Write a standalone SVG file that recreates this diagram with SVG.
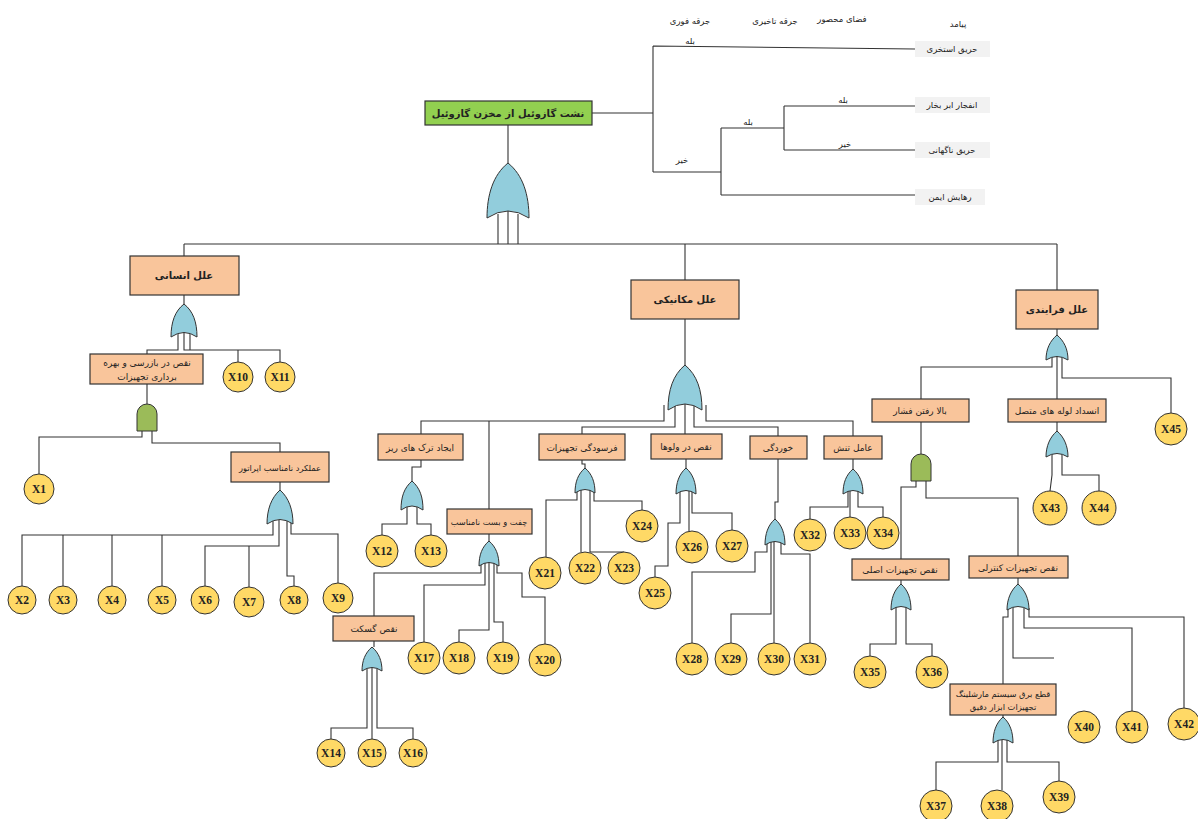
<svg xmlns="http://www.w3.org/2000/svg" width="1198" height="819" viewBox="0 0 1198 819">
<style>
.bg{fill:#fff}
.box{fill:#f9c59b;stroke:#333;stroke-width:1.2}
.top{fill:#92d050;stroke:#333;stroke-width:1.2}
.out{fill:#f2f2f2}
.or{fill:#92cddc;stroke:#333;stroke-width:1}
.and{fill:#9bbb59;stroke:#333;stroke-width:1}
.ev{fill:#ffd966;stroke:#333;stroke-width:1}
.c line,.c path{fill:none;stroke:#333;stroke-width:1.1}
.t{font-family:"DejaVu Sans",sans-serif;font-size:9px;fill:#222;text-anchor:middle}
.n{font-size:8.3px}
.tb{font-family:"DejaVu Sans",sans-serif;font-size:10px;font-weight:bold;fill:#222;text-anchor:middle}
.s{font-family:"DejaVu Sans",sans-serif;font-size:8.5px;fill:#222;text-anchor:middle}
.x{font-family:"Liberation Serif",serif;font-size:11.5px;font-weight:bold;fill:#222;text-anchor:middle}
</style>
<rect class="bg" width="1198" height="819"/>

<g id="connectors" class="c">
<path d="M592,113 H653 M653,46 V172 M653,46 L915,49 M653,172 H721 M721,128 V195 M721,128 H784 M784,106 V150 M784,106 H915 M784,150 H915 M721,195 H915"/>
<path d="M508,125 V163 M498,214 V244 M508,211 V244 M518,214 V244 M184,244 H1057 M184,244 V256 M685,244 V280 M1057,244 V290"/>
<path d="M184,295 V304 M178,334 V350 H147 V354 M184,332 V350 H238 V362 M190,334 V350 H280 V362"/>
<path d="M147,384 V404 M142,431 V437 H39 V474 M152,431 V443 H280 V452"/>
<path d="M280,482 V490 M273,521 V535 H22 V586 M63,535 V586 M112,535 V586 M162,535 V586 M279,520 V546 H205 V586 M249,546 V587 M287,521 V576 H294 V586 M291,522 V534 H338 V584"/>
<path d="M685,319 V365 M664,405 V421 H421 V434 M489,421 V509 M675,403 V427 H582 V434 M685,400 V434 M694,403 V427 H778 V436 M706,405 V421 H853 V436"/>
<path d="M421,460 V467 H412 V481 M407,507 V524 H382 V535 M417,507 V524 H431 V535"/>
<path d="M489,534 V541 M481,563 V573 H374 V616 M485,562 V585 H424 V642 M489,561 V630 H459 V642 M494,562 V622 H503 V642 M497,563 V573 H522 V597 H545 V644"/>
<path d="M374,641 V647 M367,669 V728 H331 V739 M372,668 V739 M377,669 V728 H413 V739"/>
<path d="M582,460 V464 H585 V468 M577,490 V500 H546 V557 M581,489 V552 M590,489 V552 H624 M594,490 V501 H642 V510"/>
<path d="M686,459 V468 M680,491 V523 H668 V566 H655 V577 M689,491 V531 M692,491 V513 H732 V530"/>
<path d="M778,459 V502 H775 V519 M767,542 V552 H755 V572 H692 V643 M771,541 V614 H731 V643 M774,541 V643 M781,541 V554 H810 V643"/>
<path d="M853,459 V469 M848,491 V507 H810 V519 M850,491 V517 M858,491 V507 H883 V517"/>
<path d="M1057,329 V335 M1052,357 V367 H921 V399 M1057,356 V399 M1062,357 V378 H1171 V413"/>
<path d="M1057,422 V431 M1052,454 V475 L1050,491 M1062,454 V475 H1099 V491"/>
<path d="M921,422 V454 M916,481 V487 H901 V559 M926,481 V498 H1018 V556"/>
<path d="M901,580 V584 M896,607 V644 H870 V656 M906,607 V644 H932 V656"/>
<path d="M1018,578 V584 M1008,608 V617 H1003 V684 M1013,607 V658 H1054 M1024,607 V628 H1132 V711 M1029,608 V617 H1184 V708"/>
<path d="M1003,715 V717 M998,740 V762 H936 V790 M1002,740 V790 M1007,740 V762 H1059 V781"/>
</g>

<g id="event-tree">
<text class="s" x="690" y="24">جرقه فوری</text>
<text class="s" x="775" y="24">جرقه تاخیری</text>
<text class="s" x="842" y="22">فضای محصور</text>
<text class="s" x="958" y="27">پیامد</text>
<text class="s" x="690" y="44">بله</text>
<text class="s" x="682" y="163">خیر</text>
<text class="s" x="748" y="125">بله</text>
<text class="s" x="843" y="103">بله</text>
<text class="s" x="845" y="147">خیر</text>
<g id="o1"><rect class="out" x="915" y="41" width="75" height="16"/><text class="s" x="952" y="52">حریق استخری</text></g>
<g id="o2"><rect class="out" x="915" y="97" width="75" height="16"/><text class="s" x="952" y="108">انفجار ابر بخار</text></g>
<g id="o3"><rect class="out" x="915" y="142" width="75" height="16"/><text class="s" x="952" y="153">حریق ناگهانی</text></g>
<g id="o4"><rect class="out" x="915" y="189" width="70" height="16"/><text class="s" x="950" y="200">رهایش ایمن</text></g>
</g>

<g id="top-event"><rect class="top" x="425" y="101" width="167" height="24"/><text class="tb" x="508" y="117">نشت گازوئیل از مخزن گازوئیل</text></g>

<g id="gates">
<path class="or" d="M508,163 C523,175 529,195 529,218 Q508,204 487,218 C487,195 493,175 508,163 Z"/>
<path class="or" d="M184,304 C193,311 197,322 197,337 Q184,328 171,337 C171,322 175,311 184,304 Z"/>
<path class="and" d="M137,431 V414 A10,10 0 0 1 157,414 V431 Z"/>
<path class="or" d="M280,490 C289,498 293,510 293,524 Q280,515 267,524 C267,510 271,498 280,490 Z"/>
<path class="or" d="M685,365 C697,375 702,390 702,410 Q685,398 668,410 C668,390 673,375 685,365 Z"/>
<path class="or" d="M412,481 C420,488 423,497 423,510 Q412,502 401,510 C401,497 404,488 412,481 Z"/>
<path class="or" d="M489,541 C496,547 499,555 499,566 Q489,559 479,566 C479,555 482,547 489,541 Z"/>
<path class="or" d="M372,647 C379,653 382,661 382,671 Q372,664 362,671 C362,661 365,653 372,647 Z"/>
<path class="or" d="M585,468 C592,474 595,482 595,493 Q585,486 575,493 C575,482 578,474 585,468 Z"/>
<path class="or" d="M686,468 C693,474 696,483 696,494 Q686,487 676,494 C676,483 679,474 686,468 Z"/>
<path class="or" d="M775,519 C782,525 785,534 785,545 Q775,538 765,545 C765,534 768,525 775,519 Z"/>
<path class="or" d="M853,469 C860,475 863,483 863,494 Q853,487 843,494 C843,483 846,475 853,469 Z"/>
<path class="or" d="M1057,335 C1064,341 1068,349 1068,360 Q1057,353 1046,360 C1046,349 1050,341 1057,335 Z"/>
<path class="or" d="M1057,431 C1064,437 1068,446 1068,457 Q1057,450 1046,457 C1046,446 1050,437 1057,431 Z"/>
<path class="and" d="M911,481 V464 A10,10 0 0 1 931,464 V481 Z"/>
<path class="or" d="M901,584 C908,590 911,599 911,610 Q901,603 891,610 C891,599 894,590 901,584 Z"/>
<path class="or" d="M1018,584 C1025,590 1029,599 1029,610 Q1018,603 1007,610 C1007,599 1011,590 1018,584 Z"/>
<path class="or" d="M1003,717 C1010,723 1013,732 1013,743 Q1003,736 993,743 C993,732 996,723 1003,717 Z"/>
</g>

<g id="n-human"><rect class="box" x="130" y="256" width="109" height="39"/><text class="tb" x="184" y="279">علل انسانی</text></g>
<g id="n-inspect"><rect class="box" x="90" y="354" width="113" height="30"/><text class="t" x="147" y="366">نقص در بازرسی و بهره</text><text class="t" x="147" y="380">برداری تجهیزات</text></g>
<g id="n-operator"><rect class="box" x="231" y="452" width="98" height="30"/><text class="t n" x="280" y="471">عملکرد نامناسب اپراتور</text></g>
<g id="n-mech"><rect class="box" x="631" y="280" width="108" height="39"/><text class="tb" x="685" y="303">علل مکانیکی</text></g>
<g id="n-crack"><rect class="box" x="378" y="434" width="85" height="26"/><text class="t" x="420" y="451">ایجاد ترک های ریز</text></g>
<g id="n-wear"><rect class="box" x="539" y="434" width="86" height="26"/><text class="t" x="582" y="451">فرسودگی تجهیزات</text></g>
<g id="n-valve"><rect class="box" x="651" y="434" width="71" height="25"/><text class="t" x="686" y="450">نقص در ولوها</text></g>
<g id="n-corr"><rect class="box" x="750" y="436" width="57" height="23"/><text class="t" x="778" y="451">خوردگی</text></g>
<g id="n-stress"><rect class="box" x="824" y="436" width="58" height="23"/><text class="t" x="853" y="451">عامل تنش</text></g>
<g id="n-bolt"><rect class="box" x="447" y="509" width="85" height="25"/><text class="t n" x="489" y="525">چفت و بست نامناسب</text></g>
<g id="n-gasket"><rect class="box" x="333" y="616" width="81" height="25"/><text class="t" x="374" y="632">نقص گسکت</text></g>
<g id="n-proc"><rect class="box" x="1016" y="290" width="82" height="39"/><text class="tb" x="1057" y="313">علل فرایندی</text></g>
<g id="n-press"><rect class="box" x="872" y="399" width="97" height="23"/><text class="t" x="920" y="414">بالا رفتن فشار</text></g>
<g id="n-block"><rect class="box" x="1008" y="399" width="98" height="23"/><text class="t" x="1057" y="414">انسداد لوله های متصل</text></g>
<g id="n-main"><rect class="box" x="852" y="559" width="97" height="21"/><text class="t" x="900" y="573">نقص تجهیزات اصلی</text></g>
<g id="n-ctrl"><rect class="box" x="969" y="556" width="99" height="22"/><text class="t" x="1018" y="571">نقص تجهیزات کنترلی</text></g>
<g id="n-power"><rect class="box" x="950" y="684" width="106" height="31"/><text class="t n" x="1003" y="697">قطع برق سیستم مارشلینگ</text><text class="t n" x="1003" y="710">تجهیزات ابزار دقیق</text></g>

<g id="basic-events">
<g id="X1"><circle class="ev" cx="39" cy="489" r="15"/><text class="x" x="39" y="493">X1</text></g>
<g id="X2"><circle class="ev" cx="22" cy="600" r="14"/><text class="x" x="22" y="604">X2</text></g>
<g id="X3"><circle class="ev" cx="63" cy="600" r="14"/><text class="x" x="63" y="604">X3</text></g>
<g id="X4"><circle class="ev" cx="112" cy="600" r="14"/><text class="x" x="112" y="604">X4</text></g>
<g id="X5"><circle class="ev" cx="162" cy="600" r="14"/><text class="x" x="162" y="604">X5</text></g>
<g id="X6"><circle class="ev" cx="205" cy="600" r="14"/><text class="x" x="205" y="604">X6</text></g>
<g id="X7"><circle class="ev" cx="249" cy="602" r="15"/><text class="x" x="249" y="606">X7</text></g>
<g id="X8"><circle class="ev" cx="294" cy="600" r="14"/><text class="x" x="294" y="604">X8</text></g>
<g id="X9"><circle class="ev" cx="338" cy="598" r="15"/><text class="x" x="338" y="602">X9</text></g>
<g id="X10"><circle class="ev" cx="238" cy="377" r="15"/><text class="x" x="238" y="381">X10</text></g>
<g id="X11"><circle class="ev" cx="280" cy="377" r="15"/><text class="x" x="280" y="381">X11</text></g>
<g id="X12"><circle class="ev" cx="382" cy="551" r="16"/><text class="x" x="382" y="555">X12</text></g>
<g id="X13"><circle class="ev" cx="431" cy="551" r="16"/><text class="x" x="431" y="555">X13</text></g>
<g id="X14"><circle class="ev" cx="331" cy="753" r="14"/><text class="x" x="331" y="757">X14</text></g>
<g id="X15"><circle class="ev" cx="372" cy="753" r="14"/><text class="x" x="372" y="757">X15</text></g>
<g id="X16"><circle class="ev" cx="413" cy="753" r="14"/><text class="x" x="413" y="757">X16</text></g>
<g id="X17"><circle class="ev" cx="424" cy="658" r="16"/><text class="x" x="424" y="662">X17</text></g>
<g id="X18"><circle class="ev" cx="459" cy="658" r="16"/><text class="x" x="459" y="662">X18</text></g>
<g id="X19"><circle class="ev" cx="503" cy="658" r="16"/><text class="x" x="503" y="662">X19</text></g>
<g id="X20"><circle class="ev" cx="545" cy="660" r="16"/><text class="x" x="545" y="664">X20</text></g>
<g id="X21"><circle class="ev" cx="545" cy="573" r="16"/><text class="x" x="545" y="577">X21</text></g>
<g id="X22"><circle class="ev" cx="585" cy="568" r="16"/><text class="x" x="585" y="572">X22</text></g>
<g id="X23"><circle class="ev" cx="624" cy="568" r="16"/><text class="x" x="624" y="572">X23</text></g>
<g id="X24"><circle class="ev" cx="642" cy="526" r="16"/><text class="x" x="642" y="530">X24</text></g>
<g id="X25"><circle class="ev" cx="655" cy="593" r="16"/><text class="x" x="655" y="597">X25</text></g>
<g id="X26"><circle class="ev" cx="692" cy="547" r="16"/><text class="x" x="692" y="551">X26</text></g>
<g id="X27"><circle class="ev" cx="732" cy="546" r="16"/><text class="x" x="732" y="550">X27</text></g>
<g id="X28"><circle class="ev" cx="692" cy="659" r="16"/><text class="x" x="692" y="663">X28</text></g>
<g id="X29"><circle class="ev" cx="731" cy="659" r="16"/><text class="x" x="731" y="663">X29</text></g>
<g id="X30"><circle class="ev" cx="774" cy="659" r="16"/><text class="x" x="774" y="663">X30</text></g>
<g id="X31"><circle class="ev" cx="810" cy="659" r="16"/><text class="x" x="810" y="663">X31</text></g>
<g id="X32"><circle class="ev" cx="810" cy="535" r="16"/><text class="x" x="810" y="539">X32</text></g>
<g id="X33"><circle class="ev" cx="850" cy="533" r="16"/><text class="x" x="850" y="537">X33</text></g>
<g id="X34"><circle class="ev" cx="883" cy="533" r="16"/><text class="x" x="883" y="537">X34</text></g>
<g id="X35"><circle class="ev" cx="870" cy="672" r="16"/><text class="x" x="870" y="676">X35</text></g>
<g id="X36"><circle class="ev" cx="932" cy="672" r="16"/><text class="x" x="932" y="676">X36</text></g>
<g id="X37"><circle class="ev" cx="936" cy="806" r="16"/><text class="x" x="936" y="810">X37</text></g>
<g id="X38"><circle class="ev" cx="997" cy="806" r="16"/><text class="x" x="997" y="810">X38</text></g>
<g id="X39"><circle class="ev" cx="1059" cy="797" r="16"/><text class="x" x="1059" y="801">X39</text></g>
<g id="X40"><circle class="ev" cx="1084" cy="727" r="16"/><text class="x" x="1084" y="731">X40</text></g>
<g id="X41"><circle class="ev" cx="1132" cy="727" r="16"/><text class="x" x="1132" y="731">X41</text></g>
<g id="X42"><circle class="ev" cx="1184" cy="724" r="16"/><text class="x" x="1184" y="728">X42</text></g>
<g id="X43"><circle class="ev" cx="1050" cy="508" r="17"/><text class="x" x="1050" y="512">X43</text></g>
<g id="X44"><circle class="ev" cx="1099" cy="508" r="17"/><text class="x" x="1099" y="512">X44</text></g>
<g id="X45"><circle class="ev" cx="1171" cy="429" r="16"/><text class="x" x="1171" y="433">X45</text></g>
</g>
</svg>
